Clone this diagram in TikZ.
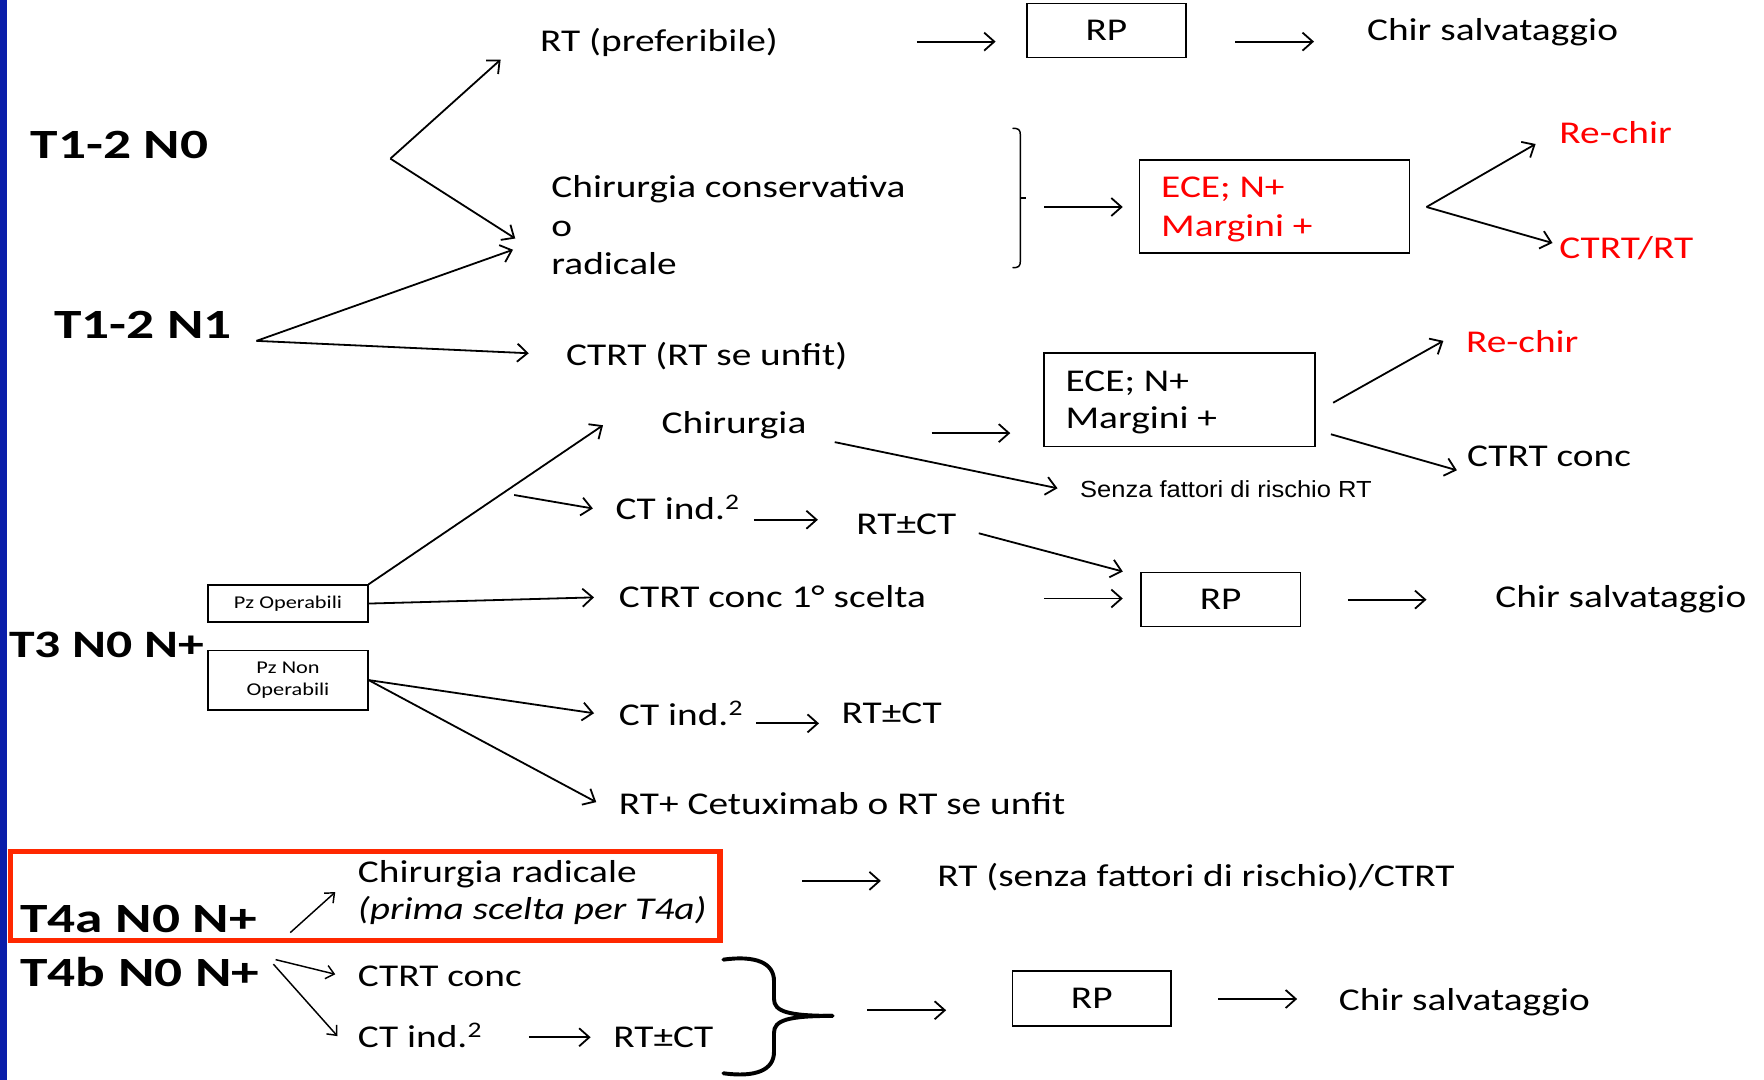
\documentclass[tikz,border=0pt]{standalone}
\usepackage{fontspec}
\setmainfont{Carlito}[FakeStretch=1.24]
\newfontfamily\labfont{Carlito}[FakeStretch=1.33]
\newfontfamily\arialf{Liberation Sans}[FakeStretch=1.095]
\usetikzlibrary{arrows.meta}
\definecolor{redframe}{RGB}{255,40,0}
\definecolor{bluebar}{RGB}{10,30,170}
\tikzset{
 txt/.style={inner sep=0pt, anchor=base west, font=\fontsize{28.2}{34}\selectfont},
 lab/.style={inner sep=0pt, anchor=base west, font=\labfont\bfseries\fontsize{37}{44}\selectfont},
 rtxt/.style={txt, text=red},
 arr/.style={line width=1.6pt, -{Straight Barb[length=9pt,width=16pt]}},
 sarr/.style={line width=1.3pt, -{Straight Barb[length=7pt,width=12pt]}},
 box/.style={draw, line width=1.4pt, inner sep=0pt, font=\fontsize{28.2}{34}\selectfont},
 smallbox/.style={draw, line width=1.2pt, inner sep=0pt, align=center, font=\fontsize{16}{20}\selectfont},
}
\begin{document}
\begin{tikzpicture}[x=1pt,y=-1pt]
\useasboundingbox (0,0) rectangle (1568,960);
\fill[white] (0,0) rectangle (1568,960);
\fill[bluebar] (0,0) rectangle (6,960);

% ---------- T1-2 N0 / N1 ----------
\node[lab] (t12n0) at (27,140.5) {T1-2 N0};
\node[lab] (t12n1) at (48,301) {T1-2 N1};
\node[txt] (rtpref) at (480,46) {RT (preferibile)};
\node[box, minimum width=141, minimum height=48] (rp1) at (983.5,27) {RP};
\node[txt] (chirsalv1) at (1215,36) {Chir salvataggio};
\node[txt] (cc1) at (490,176) {Chirurgia conservativa};
\node[txt] (cc2) at (490,210) {o};
\node[txt] (cc3) at (490,244) {radicale};
\node[txt] (ctrtunfit) at (503,325) {CTRT (RT se unfit)};
\node[box, minimum width=240, minimum height=83] (ece1) at (1133,183.5) {};
\node[rtxt] (ece1a) at (1032,176) {ECE; N+};
\node[rtxt] (ece1b) at (1032,210) {Margini +};
\node[rtxt] (rechir1) at (1386,128) {Re-chir};
\node[rtxt] (ctrtrt) at (1386,230) {CTRT/RT};

\coordinate (a1s) at (815,37); \coordinate (a1e) at (885,37);
\coordinate (a2s) at (1098,37); \coordinate (a2e) at (1168,37);
\coordinate (f1v) at (347,141); \coordinate (f1a) at (445,53); \coordinate (f1b) at (458,212);
\coordinate (n1v) at (228,303); \coordinate (n1a) at (456,222); \coordinate (n1b) at (470,314);
\coordinate (a3s) at (928,184); \coordinate (a3e) at (998,184);
\coordinate (f2v) at (1268,184); \coordinate (f2a) at (1365,128); \coordinate (f2b) at (1380,216);

\draw[arr] (a1s) -- (a1e);
\draw[arr] (a2s) -- (a2e);
\draw[arr] (f1v) -- (f1a);
\draw[arr] (f1v) -- (f1b);
\draw[arr] (n1v) -- (n1a);
\draw[arr] (n1v) -- (n1b);
\draw[arr] (a3s) -- (a3e);
\draw[arr] (f2v) -- (f2a);
\draw[arr] (f2v) -- (f2b);
% bracket
\draw[line width=1.3pt] (900,114) .. controls (905,114) and (907,115) .. (907,120) -- (907,232) .. controls (907,237) and (905,238) .. (900,238);
\draw[line width=1.3pt] (907,176) -- (912,176);

% ---------- T3 N0 N+ ----------
\node[lab, font=\labfont\bfseries\fontsize{34.5}{41}\selectfont] (t3) at (8,584) {T3 N0 N+};
\node[smallbox, minimum width=142, minimum height=33] (pzop) at (256,536.5) {Pz Operabili};
\node[smallbox, minimum width=142, minimum height=53] (pznop) at (256,604.5) {Pz Non\\Operabili};
\node[txt] (chir) at (588,385) {Chirurgia};
\node[box, minimum width=241, minimum height=83] (ece2) at (1048.5,355.5) {};
\node[txt] (ece2a) at (947,348) {ECE; N+};
\node[txt] (ece2b) at (947,381) {Margini +};
\node[rtxt] (rechir2) at (1303,313) {Re-chir};
\node[txt] (ctrtconc1) at (1304,415) {CTRT conc};
\node[inner sep=0pt, anchor=base west, font=\arialf\fontsize{20.7}{24}\selectfont] (senza) at (960,442) {Senza fattori di rischio RT};
\node[txt] (ctind1) at (547,462) {CT ind.\textsuperscript{2}};
\node[txt] (rtct1) at (761,475) {RT±CT};
\node[txt] (ctrt1s) at (550,540) {CTRT conc 1° scelta};
\node[box, minimum width=142, minimum height=48] (rp2) at (1085,533) {RP};
\node[txt] (chirsalv2) at (1329,540) {Chir salvataggio};
\node[txt] (ctind2) at (550,645) {CT ind.\textsuperscript{2}};
\node[txt] (rtct2) at (748,643) {RT±CT};
\node[txt] (cetux) at (550,724) {RT+ Cetuximab o RT se unfit};

\coordinate (a4s) at (828,385); \coordinate (a4e) at (898,385);
\coordinate (a5s) at (1185,358); \coordinate (a5e) at (1283,303);
\coordinate (a6s) at (1183,386); \coordinate (a6e) at (1295,418);
\coordinate (a7s) at (742,393); \coordinate (a7e) at (940,434);
\coordinate (a8e) at (536,378);
\coordinate (a9s) at (457,440); \coordinate (a9e) at (527,452);
\coordinate (a10s) at (670,462); \coordinate (a10e) at (727,462);
\coordinate (a11s) at (870,474); \coordinate (a11e) at (998,508);
\coordinate (a12e) at (528,531);
\coordinate (a13s) at (928,532); \coordinate (a13e) at (998,532);
\coordinate (a14s) at (1198,533); \coordinate (a14e) at (1268,533);
\coordinate (a15e) at (528,634);
\coordinate (a16e) at (530,713);
\coordinate (a17s) at (672,643); \coordinate (a17e) at (728,643);

\draw[arr] (a4s) -- (a4e);
\draw[arr] (a5s) -- (a5e);
\draw[arr] (a6s) -- (a6e);
\draw[arr] (a7s) -- (a7e);
\draw[arr] (pzop.north east) -- (a8e);
\draw[arr] (a9s) -- (a9e);
\draw[arr] (a10s) -- (a10e);
\draw[arr] (a11s) -- (a11e);
\draw[arr] (pzop.east) -- (a12e);
\draw[arr] (a13s) -- (a13e);
\draw[arr] (a14s) -- (a14e);
\draw[arr] (pznop.east) -- (a15e);
\draw[arr] (pznop.east) -- (a16e);
\draw[arr] (a17s) -- (a17e);

% ---------- T4a ----------
\draw[redframe, line width=4.5pt] (9,757) rectangle (640,836);
\node[lab] (t4a) at (18,829) {T4a N0 N+};
\node[txt] (chirrad) at (318,784) {Chirurgia radicale};
\node[txt, font=\itshape\fontsize{28.2}{34}\selectfont] (prima) at (318,817) {(prima scelta per T4a)};
\node[txt] (rtsenza) at (833,788) {RT (senza fattori di rischio)/CTRT};
\coordinate (a18s) at (258,829); \coordinate (a18e) at (298,793);
\coordinate (a19s) at (713,783); \coordinate (a19e) at (783,783);
\draw[sarr] (a18s) -- (a18e);
\draw[arr] (a19s) -- (a19e);

% ---------- T4b ----------
\node[lab] (t4b) at (18,877) {T4b N0 N+};
\node[txt] (ctrtconc2) at (318,877) {CTRT conc};
\node[txt] (ctind3) at (318,931) {CT ind.\textsuperscript{2}};
\node[txt] (rtct3) at (545,931) {RT±CT};
\node[box, minimum width=141, minimum height=49] (rp3) at (970.5,887.5) {RP};
\node[txt] (chirsalv3) at (1190,898) {Chir salvataggio};
\coordinate (a20s) at (245,853); \coordinate (a20e) at (298,866);
\coordinate (a21s) at (243,857); \coordinate (a21e) at (300,921);
\coordinate (a22s) at (470,922); \coordinate (a22e) at (525,922);
\coordinate (a23s) at (771,898); \coordinate (a23e) at (841,898);
\coordinate (a24s) at (1083,888); \coordinate (a24e) at (1153,888);
\draw[sarr] (a20s) -- (a20e);
\draw[sarr] (a21s) -- (a21e);
\draw[arr] (a22s) -- (a22e);
\draw[arr] (a23s) -- (a23e);
\draw[arr] (a24s) -- (a24e);
% brace
\coordinate (bracetip) at (740,903);
\draw[line width=3.5pt, line cap=round] (643,853) .. controls (672,849) and (688,856) .. (688,872) -- (688,888) .. controls (688,899) and (700,903) .. (bracetip);
\draw[line width=3.5pt, line cap=round] (643,954) .. controls (672,958) and (688,951) .. (688,935) -- (688,918) .. controls (688,907) and (700,903) .. (bracetip);
\end{tikzpicture}
\end{document}
